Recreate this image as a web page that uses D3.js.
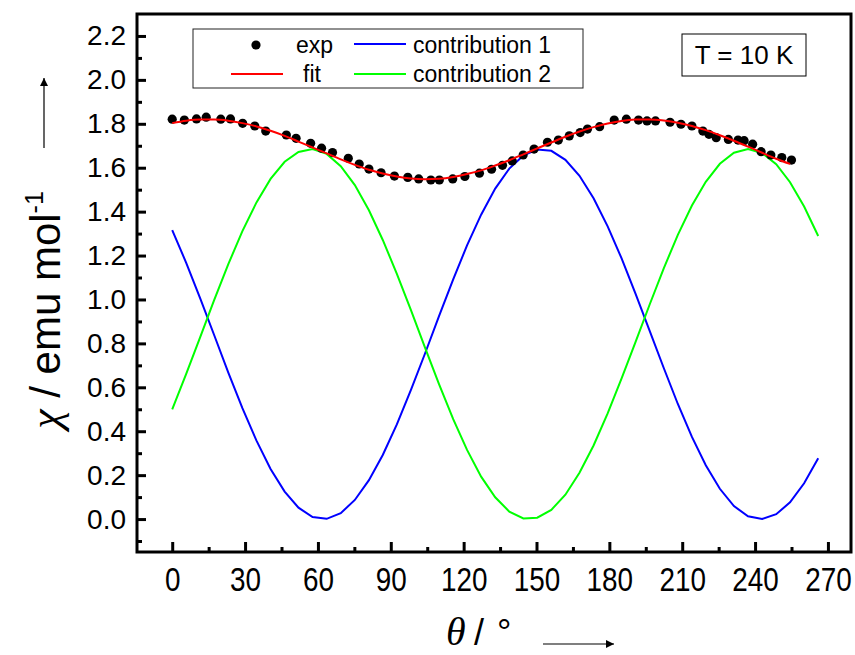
<!DOCTYPE html>
<html>
<head>
<meta charset="utf-8">
<script src="https://cdn.jsdelivr.net/npm/d3@7"></script>
<style>
  body { margin: 0; background: #fff; }
  svg { display: block; font-family: "Liberation Sans", Arial, sans-serif; }
</style>
</head>
<body>
<svg id="chart"></svg>
<script>
// angles of the calculated curves (deg)
let thetaCurve = [0.0, 5.8, 11.6, 17.3, 23.1, 28.9, 34.7, 40.5, 46.3, 52.0,
    57.8, 63.6, 69.4, 75.2, 81.0, 86.7, 92.5, 98.3, 104.1, 109.9,
    115.7, 121.4, 127.2, 133.0, 138.8, 144.6, 150.3, 156.1, 161.9, 167.7,
    173.5, 179.3, 185.0, 190.8, 196.6, 202.4, 208.2, 214.0, 219.7, 225.5,
    231.3, 237.1, 242.9, 248.7, 254.4, 260.2, 266.0];

let contrib1 = [1.316, 1.166, 1.003, 0.837, 0.667, 0.505, 0.357, 0.228, 0.125, 0.052,
    0.009, 0.001, 0.027, 0.087, 0.177, 0.292, 0.431, 0.588, 0.754, 0.925,
    1.092, 1.246, 1.386, 1.505, 1.596, 1.656, 1.683, 1.677, 1.636, 1.563,
    1.461, 1.333, 1.188, 1.026, 0.857, 0.688, 0.524, 0.374, 0.245, 0.138,
    0.059, 0.013, 0.000, 0.022, 0.076, 0.163, 0.277];

let contrib2 = [0.500, 0.662, 0.831, 0.998, 1.161, 1.311, 1.442, 1.549, 1.627, 1.672,
    1.685, 1.663, 1.607, 1.521, 1.406, 1.271, 1.117, 0.951, 0.781, 0.613,
    0.455, 0.315, 0.193, 0.099, 0.034, 0.003, 0.006, 0.042, 0.111, 0.211,
    0.335, 0.481, 0.639, 0.807, 0.977, 1.142, 1.294, 1.428, 1.536, 1.618,
    1.668, 1.685, 1.667, 1.616, 1.534, 1.423, 1.289];

// fit only runs to the last measured angle
let fitValues = [1.803, 1.814, 1.819, 1.819, 1.814, 1.803, 1.788, 1.768, 1.745, 1.719,
    1.692, 1.665, 1.638, 1.613, 1.591, 1.574, 1.560, 1.551, 1.548, 1.550,
    1.558, 1.571, 1.588, 1.610, 1.634, 1.661, 1.688, 1.715, 1.741, 1.765,
    1.785, 1.801, 1.813, 1.819, 1.820, 1.815, 1.805, 1.790, 1.771, 1.748,
    1.723, 1.696, 1.668, 1.641, 1.617];

// measured points
let expTheta = [0, 5, 10, 14, 20, 24, 29, 34, 38.5, 47,
    51, 57, 61.5, 66, 72.5, 77, 81, 86, 91.5, 97,
    101.5, 106.5, 110, 115.5, 120.5, 126.5, 131.5, 136, 140, 144.5,
    149, 154.5, 159, 163.5, 168, 171, 176, 182, 187, 192,
    195.5, 199, 205, 209.5, 214, 218.5, 221, 224, 229, 233,
    235.5, 239, 242.5, 246.5, 251, 255];
let expChi = [1.821, 1.817, 1.822, 1.830, 1.821, 1.822, 1.802, 1.790, 1.767, 1.749,
    1.734, 1.711, 1.689, 1.669, 1.643, 1.617, 1.594, 1.577, 1.562, 1.556,
    1.549, 1.544, 1.544, 1.549, 1.560, 1.575, 1.593, 1.611, 1.631, 1.658,
    1.685, 1.716, 1.726, 1.745, 1.760, 1.776, 1.787, 1.817, 1.821, 1.817,
    1.813, 1.813, 1.807, 1.798, 1.790, 1.767, 1.752, 1.737, 1.729, 1.726,
    1.723, 1.707, 1.673, 1.658, 1.646, 1.635];

let xTicks = [0, 30, 60, 90, 120, 150, 180, 210, 240, 270];
let xMinor = [15, 45, 75, 105, 135, 165, 195, 225, 255];
let yTicks = [0.0, 0.2, 0.4, 0.6, 0.8, 1.0, 1.2, 1.4, 1.6, 1.8, 2.0, 2.2];
let yMinor = [-0.1, 0.1, 0.3, 0.5, 0.7, 0.9, 1.1, 1.3, 1.5, 1.7, 1.9, 2.1];

let width = 855;
let height = 655;

let svg = d3.select('#chart').attr('width', width).attr('height', height);

let xScale = d3.scaleLinear().domain([-14.5, 279.5]).range([137, 851]);
let yScale = d3.scaleLinear().domain([-0.15, 2.3]).range([552, 14]);

let bottom = yScale(-0.15);
let left = xScale(-14.5);

// axes: ticks point inward
let xAxis = d3.axisBottom(xScale).tickValues(xTicks).tickSize(-10).tickPadding(15).tickFormat(d3.format('d'));
let xAxisMinor = d3.axisBottom(xScale).tickValues(xMinor).tickSize(-5).tickFormat('');
let yAxis = d3.axisLeft(yScale).tickValues(yTicks).tickSize(-9).tickPadding(11).tickFormat(d3.format('.1f'));
let yAxisMinor = d3.axisLeft(yScale).tickValues(yMinor).tickSize(-5).tickFormat('');

let styleAxis = (g, fs) => {
    g.select('.domain').remove();
    g.selectAll('line').attr('stroke', '#000').attr('stroke-width', 3);
    g.selectAll('text').attr('font-size', fs).attr('fill', '#000')
        .attr('font-family', '"Liberation Sans", Arial, sans-serif');
};

svg.append('g').attr('transform', `translate(0, ${bottom})`).call(xAxis)
    .call((g) => styleAxis(g, 34))
    .call((g) => g.selectAll('text').attr('transform', 'scale(0.82, 1)')); // condensed labels
svg.append('g').attr('transform', `translate(0, ${bottom})`).call(xAxisMinor).call((g) => styleAxis(g, 28));
svg.append('g').attr('transform', `translate(${left}, 0)`).call(yAxis).call((g) => styleAxis(g, 28));
svg.append('g').attr('transform', `translate(${left}, 0)`).call(yAxisMinor).call((g) => styleAxis(g, 28));

// curves
let line = d3.line().x((d) => xScale(d[0])).y((d) => yScale(d[1]));

svg.append('path')
    .datum(thetaCurve.map((t, i) => [t, contrib1[i]]))
    .attr('d', line).attr('fill', 'none').attr('stroke', '#0000ff').attr('stroke-width', 2);
svg.append('path')
    .datum(thetaCurve.map((t, i) => [t, contrib2[i]]))
    .attr('d', line).attr('fill', 'none').attr('stroke', '#00ff00').attr('stroke-width', 2);

svg.selectAll('circle.exp')
    .data(expTheta.map((t, i) => [t, expChi[i]]))
    .enter()
    .append('circle')
    .attr('class', 'exp')
    .attr('cx', (d) => xScale(d[0]))
    .attr('cy', (d) => yScale(d[1]))
    .attr('r', 4.6)
    .attr('fill', '#000');

svg.append('path')
    .datum(fitValues.map((v, i) => [thetaCurve[i], v]))
    .attr('d', line.curve(d3.curveMonotoneX)).attr('fill', 'none').attr('stroke', '#ff0000').attr('stroke-width', 2);

// frame
svg.append('rect')
    .attr('x', left).attr('y', yScale(2.3))
    .attr('width', xScale(279.5) - left).attr('height', bottom - yScale(2.3))
    .attr('fill', 'none').attr('stroke', '#000').attr('stroke-width', 3);

// legend
let legend = svg.append('g').attr('font-size', 23);
legend.append('rect').attr('x', 193).attr('y', 29).attr('width', 390).attr('height', 59)
    .attr('fill', '#fff').attr('stroke', '#222').attr('stroke-width', 1);
legend.append('circle').attr('cx', 256).attr('cy', 45).attr('r', 4.6).attr('fill', '#000');
legend.append('text').attr('x', 296).attr('y', 53).text('exp');
legend.append('line').attr('x1', 231).attr('x2', 283).attr('y1', 74).attr('y2', 74)
    .attr('stroke', '#ff0000').attr('stroke-width', 2);
legend.append('text').attr('x', 303).attr('y', 82).text('fit');
legend.append('line').attr('x1', 354).attr('x2', 406).attr('y1', 44).attr('y2', 44)
    .attr('stroke', '#0000ff').attr('stroke-width', 2);
legend.append('text').attr('x', 413).attr('y', 53).text('contribution 1');
legend.append('line').attr('x1', 354).attr('x2', 406).attr('y1', 74).attr('y2', 74)
    .attr('stroke', '#00ff00').attr('stroke-width', 2);
legend.append('text').attr('x', 413).attr('y', 82).text('contribution 2');

// temperature box
svg.append('rect').attr('x', 682).attr('y', 34).attr('width', 124).attr('height', 42)
    .attr('fill', '#fff').attr('stroke', '#000').attr('stroke-width', 1);
svg.append('text').attr('x', 744).attr('y', 64).attr('text-anchor', 'middle')
    .attr('font-size', 26).text('T = 10 K');

// axis titles
let ytitle = svg.append('text')
    .attr('transform', 'translate(60, 310) rotate(-90)')
    .attr('text-anchor', 'middle')
    .attr('font-size', 42);
ytitle.append('tspan').attr('font-family', '"Liberation Serif", "Times New Roman", serif')
    .attr('font-style', 'italic').attr('font-size', 44).text('χ');
ytitle.append('tspan').text(' / emu mol');
ytitle.append('tspan').attr('font-size', 25).attr('dy', -17).text('-1');

let xtitle = svg.append('text').attr('y', 645).attr('font-size', 36);
xtitle.append('tspan').attr('x', 446)
    .attr('font-family', '"Liberation Serif", "Times New Roman", serif')
    .attr('font-style', 'italic').attr('font-size', 40).text('θ');
xtitle.append('tspan').attr('x', 474).text('/');
xtitle.append('tspan').attr('x', 497).text('°');

// arrows
let defs = svg.append('defs');
defs.append('marker').attr('id', 'arr').attr('viewBox', '0 0 10 10')
    .attr('refX', 10).attr('refY', 5).attr('markerWidth', 10).attr('markerHeight', 8)
    .attr('markerUnits', 'userSpaceOnUse').attr('orient', 'auto')
    .append('path').attr('d', 'M0,0 L10,5 L0,10 z').attr('fill', '#000');

svg.append('line').attr('x1', 543).attr('x2', 614).attr('y1', 644).attr('y2', 644)
    .attr('stroke', '#000').attr('stroke-width', 1.2).attr('marker-end', 'url(#arr)');
svg.append('line').attr('x1', 44).attr('x2', 44).attr('y1', 148).attr('y2', 78)
    .attr('stroke', '#000').attr('stroke-width', 1.2).attr('marker-end', 'url(#arr)');
</script>
</body>
</html>
